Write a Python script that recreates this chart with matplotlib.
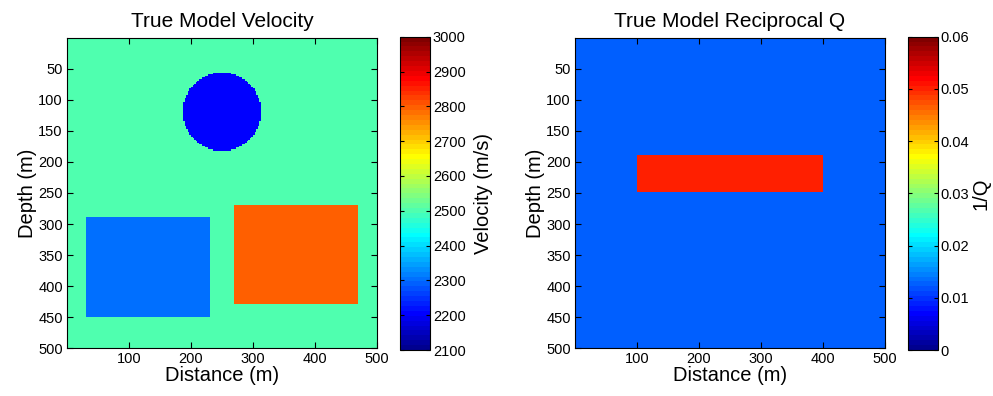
import numpy as np
import matplotlib
matplotlib.use("Agg")
import matplotlib.pyplot as plt
from matplotlib.colors import ListedColormap

plt.rcParams['font.family'] = ['Liberation Sans', 'DejaVu Sans']

# ---- data ----
grid_step = 2.5                      # m
x_extent = [0, 500]
z_extent = [0, 500]

# velocity model (m/s)
vel_background = 2500
circle_center = (250, 120)           # (x, z)
circle_radius = 63
circle_vel = 2200
rect1_x = [30, 230]
rect1_z = [290, 450]
rect1_vel = 2300
rect2_x = [270, 470]
rect2_z = [270, 430]
rect2_vel = 2800

# reciprocal Q model
invq_background = 0.0125
invq_rect_x = [100, 400]
invq_rect_z = [190, 250]
invq_rect_val = 0.05

vel_ticks = [2100, 2200, 2300, 2400, 2500, 2600, 2700, 2800, 2900, 3000]
invq_ticks = [0, 0.01, 0.02, 0.03, 0.04, 0.05, 0.06]
invq_ticklabels = ['0', '0.01', '0.02', '0.03', '0.04', '0.05', '0.06']
x_ticks = [100, 200, 300, 400, 500]
z_ticks = [50, 100, 150, 200, 250, 300, 350, 400, 450, 500]

# ---- build models ----
xc = np.arange(x_extent[0] + grid_step / 2, x_extent[1], grid_step)
zc = np.arange(z_extent[0] + grid_step / 2, z_extent[1], grid_step)
X, Z = np.meshgrid(xc, zc)

vel = np.full(X.shape, float(vel_background))
vel[(X - circle_center[0])**2 + (Z - circle_center[1])**2 <= circle_radius**2] = circle_vel
vel[(X >= rect1_x[0]) & (X <= rect1_x[1]) & (Z >= rect1_z[0]) & (Z <= rect1_z[1])] = rect1_vel
vel[(X >= rect2_x[0]) & (X <= rect2_x[1]) & (Z >= rect2_z[0]) & (Z <= rect2_z[1])] = rect2_vel

invq = np.full(X.shape, invq_background)
invq[(X >= invq_rect_x[0]) & (X <= invq_rect_x[1]) & (Z >= invq_rect_z[0]) & (Z <= invq_rect_z[1])] = invq_rect_val

# MATLAB-style jet(64)
def matlab_jet(m=64):
    n = int(np.ceil(m / 4))
    u = np.concatenate([np.arange(1, n + 1) / n, np.ones(n - 1), np.arange(n, 0, -1) / n])
    g = int(np.ceil(n / 2)) - (1 if m % 4 == 1 else 0) + np.arange(1, len(u) + 1)
    r = g + n
    b = g - n
    J = np.zeros((m, 3))
    for ch, idx in ((0, r), (1, g), (2, b)):
        ok = (idx >= 1) & (idx <= m)
        J[idx[ok] - 1, ch] = u[ok]
    return ListedColormap(J)

cmap = matlab_jet(64)

W, H = 993, 396
fig = plt.figure(figsize=(W / 100, H / 100), dpi=100)

def box(x0, x1, y0, y1):
    return [x0 / W, 1 - y1 / H, (x1 - x0) / W, (y1 - y0) / H]

panels = [
    dict(data=vel, vmin=2100, vmax=3000, title='True Model Velocity', cblabel='Velocity (m/s)',
         ax=box(67, 377, 37.7, 348.3), cax=box(400, 430, 36.7, 350),
         cticks=vel_ticks, clabels=[str(t) for t in vel_ticks], cbpad=6),
    dict(data=invq, vmin=0, vmax=0.06, title='True Model Reciprocal Q', cblabel='1/Q',
         ax=box(575, 885, 37.7, 348.3), cax=box(907.5, 937.5, 36.7, 350),
         cticks=invq_ticks, clabels=invq_ticklabels, cbpad=2),
]

for p in panels:
    ax = fig.add_axes(p['ax'])
    im = ax.imshow(p['data'], cmap=cmap, vmin=p['vmin'], vmax=p['vmax'],
                   extent=[x_extent[0], x_extent[1], z_extent[1], z_extent[0]],
                   aspect='auto', interpolation='nearest')
    ax.set_xlim(x_extent[0], x_extent[1])
    ax.set_ylim(z_extent[1], z_extent[0])
    ax.set_xticks(x_ticks)
    ax.set_yticks(z_ticks)
    ax.tick_params(direction='in', top=True, right=True, labelsize=10.5, length=4, width=0.8, pad=3)
    ax.set_title(p['title'], fontsize=15, pad=8)
    ax.set_xlabel('Distance (m)', fontsize=14.5, labelpad=0)
    ax.set_ylabel('Depth (m)', fontsize=14.5, labelpad=1)
    for s in ax.spines.values():
        s.set_linewidth(0.8)

    cax = fig.add_axes(p['cax'])
    cb = fig.colorbar(im, cax=cax)
    cb.set_ticks(p['cticks'])
    cb.set_ticklabels(p['clabels'])
    cax.tick_params(direction='in', left=True, right=True, labelsize=10.5, length=3, width=0.8, pad=2)
    cb.outline.set_linewidth(0.8)
    cb.set_label(p['cblabel'], fontsize=14.5, labelpad=p['cbpad'])

fig.savefig('out.png', dpi=100)
